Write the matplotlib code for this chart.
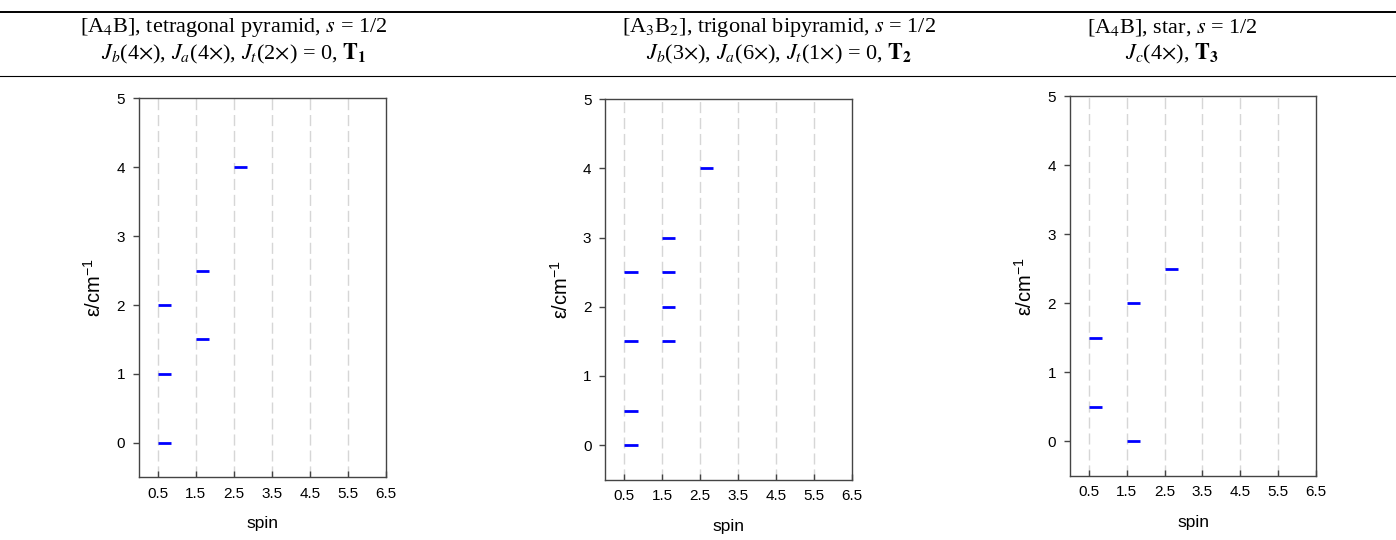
import matplotlib
matplotlib.use("Agg")
import matplotlib.pyplot as plt
from matplotlib.lines import Line2D

plt.rcParams['font.family'] = 'Liberation Sans'
plt.rcParams['mathtext.fontset'] = 'custom'
plt.rcParams['mathtext.rm'] = 'Liberation Sans'
plt.rcParams['mathtext.it'] = 'Liberation Sans:italic'
plt.rcParams['mathtext.bf'] = 'Liberation Sans:bold'

# energy levels (cm^-1) grouped by total spin, one set per topology
spins = [0.5, 1.5, 2.5]
t1_levels = [[0, 1, 2], [1.5, 2.5], [4]]
t2_levels = [[0, 0.5, 1.5, 2.5], [1.5, 2, 2.5, 3], [4]]
t3_levels = [[0.5, 1.5], [0, 2], [2.5]]

headers = [
    (r'[A$_4$B], tetragonal pyramid, $s$ = 1/2',
     r'$J_b$(4$\times$), $J_a$(4$\times$), $J_t$(2$\times$) = 0, $\mathbf{T}_\mathbf{1}$'),
    (r'[A$_3$B$_2$], trigonal bipyramid, $s$ = 1/2',
     r'$J_b$(3$\times$), $J_a$(6$\times$), $J_t$(1$\times$) = 0, $\mathbf{T}_\mathbf{2}$'),
    (r'[A$_4$B], star, $s$ = 1/2',
     r'$J_c$(4$\times$), $\mathbf{T}_\mathbf{3}$'),
]
header_x = [234, 779, 1172]

xticks = [0.5, 1.5, 2.5, 3.5, 4.5, 5.5, 6.5]
yticks = [0, 1, 2, 3, 4, 5]

W, H = 1396, 540
fig = plt.figure(figsize=(W / 100, H / 100), dpi=100)

# table rules and column headers
fig.add_artist(Line2D([0, 1], [1 - 12 / H] * 2, color='black', lw=1.4))
fig.add_artist(Line2D([0, 1], [1 - 75.5 / H] * 2, color='black', lw=0.8))
for (l1, l2), cx in zip(headers, header_x):
    for txt, base in ((l1, 32), (l2, 59.5)):
        fig.text(cx / W, 1 - base / H, txt, ha='center', va='baseline',
                 fontsize=16, family='Liberation Serif', math_fontfamily='stix')

# axes boxes in pixels: left, top, right, bottom
boxes = [(139, 98.3, 385.7, 477.3), (605.3, 99.2, 851.7, 479.7), (1070, 96.3, 1316, 475.7)]
spine_col = '#444444'

for (l, t, r, b), levels in zip(boxes, [t1_levels, t2_levels, t3_levels]):
    ax = fig.add_axes([l / W, (H - b) / H, (r - l) / W, (b - t) / H])
    for xg in xticks[:-1]:
        ax.axvline(xg, color='#d6d6d6', lw=1.0, dashes=(8, 3.5), zorder=0)
    for s, es in zip(spins, levels):
        for e in es:
            ax.plot([s, s + 0.35], [e, e], color='#0000ff', lw=2.0,
                    solid_capstyle='butt', zorder=3)
    ax.set_xlim(0, 6.5)
    ax.set_ylim(-0.5, 5)
    ax.set_xticks(xticks)
    ax.set_xticklabels([f'{v:.1f}' for v in xticks])
    ax.set_yticks(yticks)
    ax.tick_params(axis='x', direction='in', length=4, width=1, color=spine_col,
                   labelsize=11, pad=7, top=False)
    ax.tick_params(axis='y', direction='out', length=4, width=1, color=spine_col,
                   labelsize=11, pad=6, right=False)
    for sp in ax.spines.values():
        sp.set_color(spine_col)
        sp.set_linewidth(1.0)
    ax.set_xlabel('spin', fontsize=12.5, labelpad=11)
    ax.set_ylabel(r'ε/cm$^{-1}$', fontsize=14.5)
    ax.yaxis.set_label_coords(-0.137, 0.5)

fig.savefig('out.png', dpi=100)
